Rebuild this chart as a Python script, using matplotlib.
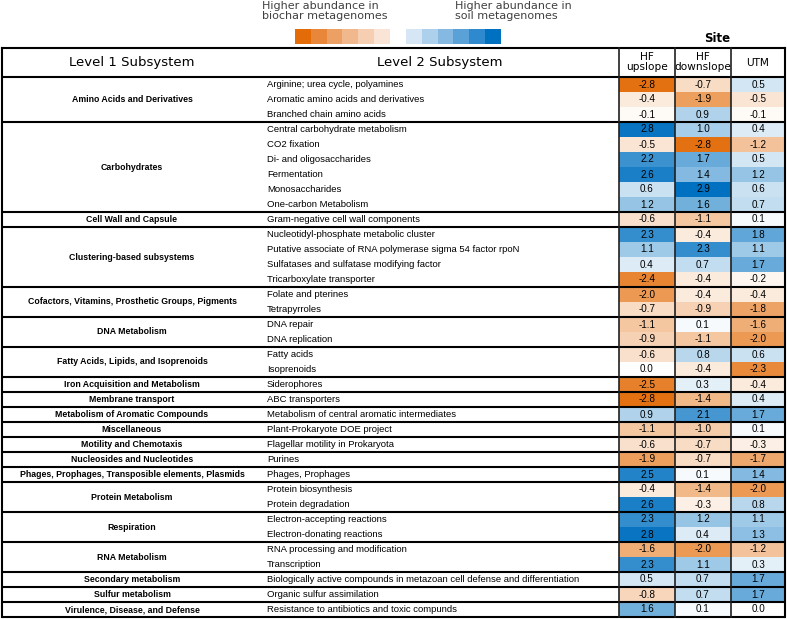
import numpy as np
import matplotlib as mpl
mpl.use("Agg")
import matplotlib.pyplot as plt
from matplotlib.colors import LinearSegmentedColormap, Normalize
from matplotlib.patches import Rectangle

## Data
level1_names = ["Amino Acids and Derivatives", "Carbohydrates", "Cell Wall and Capsule",
                "Clustering-based subsystems", "Cofactors, Vitamins, Prosthetic Groups, Pigments",
                "DNA Metabolism", "Fatty Acids, Lipids, and Isoprenoids",
                "Iron Acquisition and Metabolism", "Membrane transport",
                "Metabolism of Aromatic Compounds", "Miscellaneous", "Motility and Chemotaxis",
                "Nucleosides and Nucleotides", "Phages, Prophages, Transposible elements, Plasmids",
                "Protein Metabolism", "Respiration", "RNA Metabolism", "Secondary metabolism",
                "Sulfur metabolism", "Virulence, Disease, and Defense"]
level1_sizes = [3, 6, 1, 4, 2, 2, 2, 1, 1, 1, 1, 1, 1, 1, 2, 2, 2, 1, 1, 1]

level2_names = ["Arginine; urea cycle, polyamines", "Aromatic amino acids and derivatives",
                "Branched chain amino acids", "Central carbohydrate metabolism", "CO2 fixation",
                "Di- and oligosaccharides", "Fermentation", "Monosaccharides",
                "One-carbon Metabolism", "Gram-negative cell wall components",
                "Nucleotidyl-phosphate metabolic cluster",
                "Putative associate of RNA polymerase sigma 54 factor rpoN",
                "Sulfatases and sulfatase modifying factor", "Tricarboxylate transporter",
                "Folate and pterines", "Tetrapyrroles", "DNA repair", "DNA replication",
                "Fatty acids", "Isoprenoids", "Siderophores", "ABC transporters",
                "Metabolism of central aromatic intermediates", "Plant-Prokaryote DOE project",
                "Flagellar motility in Prokaryota", "Purines", "Phages, Prophages",
                "Protein biosynthesis", "Protein degradation", "Electron-accepting reactions",
                "Electron-donating reactions", "RNA processing and modification", "Transcription",
                "Biologically active compounds in metazoan cell defense and differentiation",
                "Organic sulfur assimilation", "Resistance to antibiotics and toxic compunds"]

sites = ["HF\nupslope", "HF\ndownslope", "UTM"]
hf_upslope = [-2.8, -0.4, -0.1, 2.8, -0.5, 2.2, 2.6, 0.6, 1.2, -0.6, 2.3, 1.1, 0.4, -2.4,
              -2.0, -0.7, -1.1, -0.9, -0.6, 0.0, -2.5, -2.8, 0.9, -1.1, -0.6, -1.9, 2.5,
              -0.4, 2.6, 2.3, 2.8, -1.6, 2.3, 0.5, -0.8, 1.6]
hf_downslope = [-0.7, -1.9, 0.9, 1.0, -2.8, 1.7, 1.4, 2.9, 1.6, -1.1, -0.4, 2.3, 0.7, -0.4,
                -0.4, -0.9, 0.1, -1.1, 0.8, -0.4, 0.3, -1.4, 2.1, -1.0, -0.7, -0.7, 0.1,
                -1.4, -0.3, 1.2, 0.4, -2.0, 1.1, 0.7, 0.7, 0.1]
utm = [0.5, -0.5, -0.1, 0.4, -1.2, 0.5, 1.2, 0.6, 0.7, 0.1, 1.8, 1.1, 1.7, -0.2,
       -0.4, -1.8, -1.6, -2.0, 0.6, -2.3, -0.4, 0.4, 1.7, 0.1, -0.3, -1.7, 1.4,
       -2.0, 0.8, 1.1, 1.3, -1.2, 0.3, 1.7, 1.7, 0.0]

legend_orange = ["#E36C09", "#E8873A", "#EDA064", "#F1B88D", "#F6CFB2", "#FAE4D6"]
legend_blue = ["#D6E6F4", "#ADD0EC", "#85B9E2", "#5AA1D8", "#2E89CE", "#0070C0"]

## Layout (pixels)
W, H = 787, 619
x_left, x_right = 2, 785
col_edges = np.array([619, 675, 731, 785])
y_head_top, y_head_bot = 48, 77
row_h = 15.0
x_l1_center = 132
x_l2_left = 267

cmap = LinearSegmentedColormap.from_list("div", ["#E36C09", "#FFFFFF", "#0070C0"])
norm = Normalize(vmin=-2.9, vmax=2.9)

fig = plt.figure(figsize=(W / 100, H / 100), dpi=100)
ax = fig.add_axes([0, 0, 1, 1])
ax.set_xlim(0, W)
ax.set_ylim(H, 0)
ax.axis("off")

vals = np.array([hf_upslope, hf_downslope, utm]).T
n = len(level2_names)
y_edges = y_head_bot + row_h * np.arange(n + 1)
ax.pcolormesh(col_edges, y_edges, vals, cmap=cmap, norm=norm, zorder=1)

arial = "Liberation Sans"
for i in range(n):
    yc = y_edges[i] + row_h / 2
    ax.text(x_l2_left, yc, level2_names[i], ha="left", va="center",
            fontsize=6.8, family=arial, zorder=3)
    for j in range(3):
        ax.text((col_edges[j] + col_edges[j + 1]) / 2, yc, "%.1f" % vals[i, j],
                ha="center", va="center", fontsize=7.1, family=arial, zorder=3)

## Level 1 groups
start = 0
bounds = [0]
for name, size in zip(level1_names, level1_sizes):
    yc = y_edges[start] + size * row_h / 2
    ax.text(x_l1_center, yc, name, ha="center", va="center", fontsize=6.3,
            family=arial, fontweight="bold", zorder=3)
    start += size
    bounds.append(start)

for b in bounds:
    ax.plot([x_left, x_right], [y_edges[b], y_edges[b]], color="black", lw=1.5,
            zorder=4, solid_capstyle="butt")
ax.plot([x_left, x_right], [y_head_top, y_head_top], color="black", lw=1.5, zorder=4)

for x in [x_left, x_right]:
    ax.plot([x, x], [y_head_top, y_edges[-1]], color="black", lw=1.5, zorder=4)
for x in col_edges[:-1]:
    ax.plot([x, x], [y_head_top, y_edges[-1]], color="#202020", lw=1.2, zorder=4)

## Header
hy = (y_head_top + y_head_bot) / 2
ax.text(x_l1_center, hy, "Level 1 Subsystem", ha="center", va="center",
        fontsize=9.5, family="DejaVu Sans")
ax.text(440, hy, "Level 2 Subsystem", ha="center", va="center",
        fontsize=9.5, family="DejaVu Sans")
for j, s in enumerate(sites):
    ax.text((col_edges[j] + col_edges[j + 1]) / 2, hy, s, ha="center", va="center",
            fontsize=7.6, family="DejaVu Sans", linespacing=1.0)
ax.text(717, 38, "Site", ha="center", va="center", fontsize=8.5,
        family="DejaVu Sans", fontweight="bold")

## Legend
sw = 15.8
for k, c in enumerate(legend_orange):
    ax.add_patch(Rectangle((295 + k * sw, 29), sw, 15, facecolor=c, edgecolor="none"))
for k, c in enumerate(legend_blue):
    ax.add_patch(Rectangle((406 + k * sw, 29), sw, 15, facecolor=c, edgecolor="none"))
ax.text(262, 11, "Higher abundance in\nbiochar metagenomes", ha="left", va="center",
        fontsize=8, family="DejaVu Sans", color="#404040", linespacing=0.95)
ax.text(455, 11, "Higher abundance in\nsoil metagenomes", ha="left", va="center",
        fontsize=8, family="DejaVu Sans", color="#404040", linespacing=0.95)

fig.savefig("out.png", dpi=100)
